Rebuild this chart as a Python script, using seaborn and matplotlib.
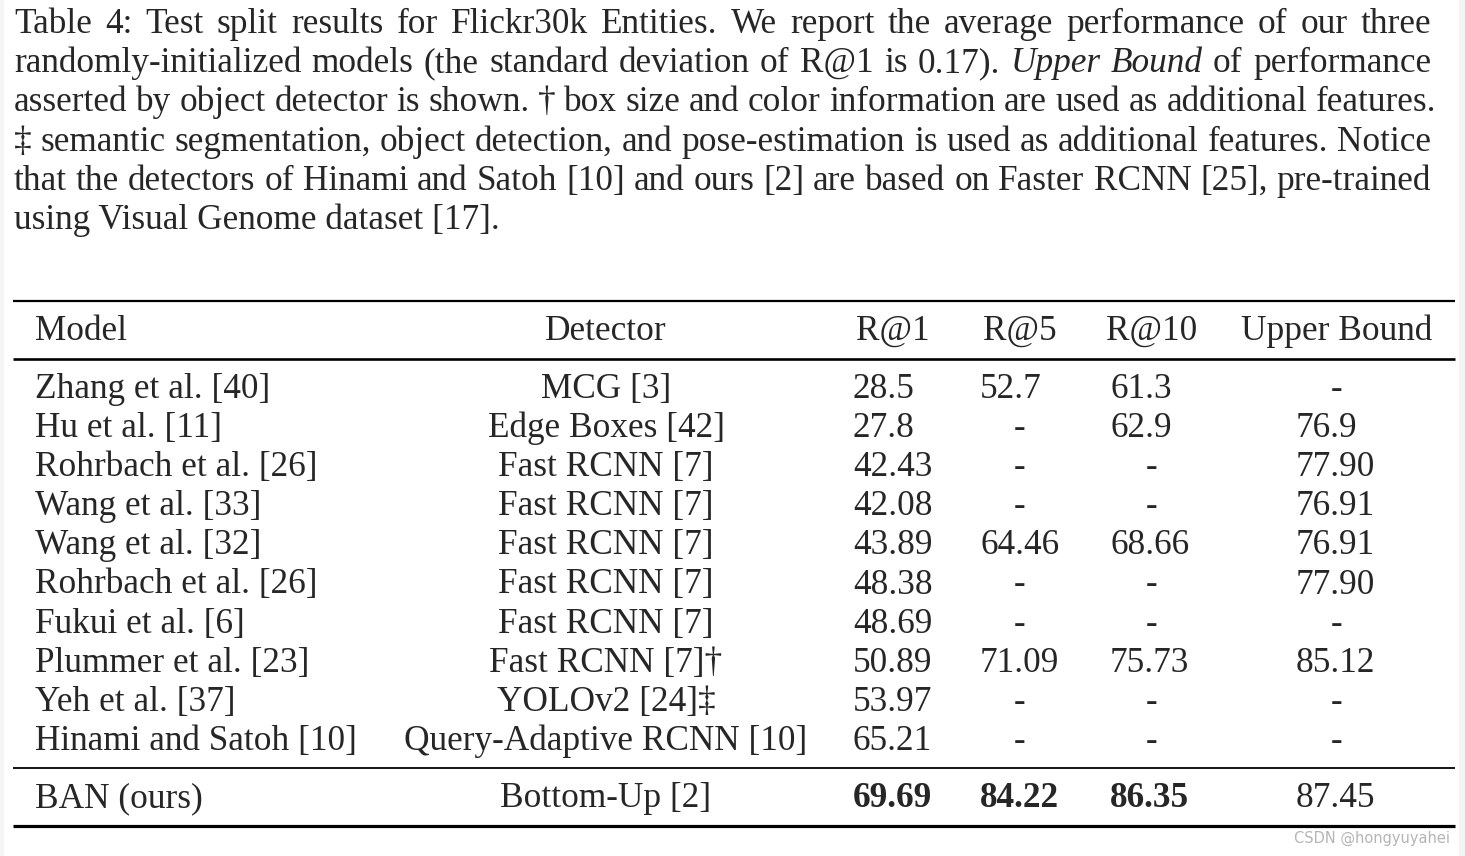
import matplotlib
matplotlib.use("Agg")
import matplotlib.pyplot as plt
import seaborn as sns
import pandas as pd

# caption lines, words wrapped in _ are set in italics
caption_lines = [
    "Table 4: Test split results for Flickr30k Entities.  We report the average performance of our three",
    "randomly-initialized models (the standard deviation of R@1 is 0.17). _Upper_ _Bound_ of performance",
    "asserted by object detector is shown. \u2020 box size and color information are used as additional features.",
    "\u2021 semantic segmentation, object detection, and pose-estimation is used as additional features. Notice",
    "that the detectors of Hinami and Satoh [10] and ours [2] are based on Faster RCNN [25], pre-trained",
    "using Visual Genome dataset [17].",
]

columns = ["Model", "Detector", "R@1", "R@5", "R@10", "Upper Bound"]
models = ["Zhang et al. [40]", "Hu et al. [11]", "Rohrbach et al. [26]", "Wang et al. [33]",
          "Wang et al. [32]", "Rohrbach et al. [26]", "Fukui et al. [6]", "Plummer et al. [23]",
          "Yeh et al. [37]", "Hinami and Satoh [10]"]
detectors = ["MCG [3]", "Edge Boxes [42]", "Fast RCNN [7]", "Fast RCNN [7]", "Fast RCNN [7]",
             "Fast RCNN [7]", "Fast RCNN [7]", "Fast RCNN [7]\u2020", "YOLOv2 [24]\u2021",
             "Query-Adaptive RCNN [10]"]
r1 = ["28.5", "27.8", "42.43", "42.08", "43.89", "48.38", "48.69", "50.89", "53.97", "65.21"]
r5 = ["52.7", "-", "-", "-", "64.46", "-", "-", "71.09", "-", "-"]
r10 = ["61.3", "62.9", "-", "-", "68.66", "-", "-", "75.73", "-", "-"]
upper = ["-", "76.9", "77.90", "76.91", "76.91", "77.90", "-", "85.12", "-", "-"]

ours = ["BAN (ours)", "Bottom-Up [2]", "69.69", "84.22", "86.35", "87.45"]
ours_bold = [False, False, True, True, True, False]

df = pd.DataFrame({"Model": models, "Detector": detectors, "R@1": r1,
                   "R@5": r5, "R@10": r10, "Upper Bound": upper})

sns.set_theme(style="white")
plt.rcParams["font.family"] = ["Liberation Serif", "DejaVu Serif"]
FS = 25.4

fig = plt.figure(figsize=(14.65, 8.56), dpi=100)
ax = fig.add_axes([0, 0, 1, 1])
ax.set_xlim(0, 1465)
ax.set_ylim(856, 0)
ax.axis("off")
ax.axvspan(0, 4, color="#f4f4f4", lw=0)
ax.axvspan(1459, 1465, color="#f4f4f4", lw=0)

renderer = fig.canvas.get_renderer()
inv = ax.transData.inverted()


def text_width(t):
    bb = t.get_window_extent(renderer=renderer)
    p0 = inv.transform((bb.x0, bb.y0))
    p1 = inv.transform((bb.x1, bb.y1))
    return p1[0] - p0[0]


# caption, justified like the LaTeX output (last line set ragged)
cap_left = 14
cap_right = [1431, 1431, 1436, 1431, 1431, None]
for i, line in enumerate(caption_lines):
    y = 33 + i * 39.2
    if cap_right[i] is None:
        ax.text(cap_left, y, line, fontsize=FS, va="baseline", ha="left")
        continue
    arts = []
    for w in line.split():
        style = "normal"
        if w.startswith("_") and w.endswith("_"):
            w = w.strip("_")
            style = "italic"
        arts.append(ax.text(0, y, w, fontsize=FS, fontstyle=style, va="baseline", ha="left"))
    widths = [text_width(a) for a in arts]
    gap = (cap_right[i] - cap_left - sum(widths)) / (len(arts) - 1)
    x = cap_left
    for a, w in zip(arts, widths):
        a.set_x(x)
        x += w + gap

# table rules
rule_x = (13, 1455)
ax.hlines(301, *rule_x, color="black", lw=1.6)
ax.hlines(359, *rule_x, color="black", lw=1.9)
ax.hlines(768, *rule_x, color="black", lw=1.3)
ax.hlines(826, *rule_x, color="black", lw=2.3)

# column anchors: (x for values, alignment, x for dashes)
col_pos = {
    "Model": (35, "left", 35),
    "Detector": (606, "center", 606),
    "R@1": (853, "left", 893),
    "R@5": (980, "left", 1020),
    "R@10": (1110, "left", 1152),
    "Upper Bound": (1296, "left", 1337),
}
header_pos = {"Model": (35, "left"), "Detector": (606, "center"), "R@1": (893, "center"),
              "R@5": (1020, "center"), "R@10": (1152, "center"), "Upper Bound": (1337, "center")}

for c in columns:
    hx, ha = header_pos[c]
    ax.text(hx, 340, c, fontsize=FS, ha=ha, va="baseline")

for i, row in df.iterrows():
    y = 398 + i * 39.1
    for c in columns:
        x, ha, cx = col_pos[c]
        v = row[c]
        if v == "-":
            ax.text(cx, y, v, fontsize=FS, ha="center", va="baseline")
        else:
            ax.text(x, y, v, fontsize=FS, ha=ha, va="baseline")

for c, v, b in zip(columns, ours, ours_bold):
    x, ha, cx = col_pos[c]
    ax.text(x, 807, v, fontsize=FS, ha=ha, va="baseline",
            fontweight="bold" if b else "normal")

ax.text(1450, 843, "CSDN @hongyuyahei", fontsize=10.5, color="#b5b5b5",
        family="DejaVu Sans", ha="right", va="baseline")

fig.savefig("out.png", dpi=100)
